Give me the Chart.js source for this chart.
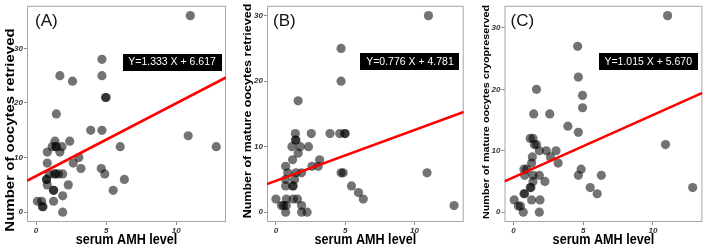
<!DOCTYPE html>
<html>
<head>
<meta charset="utf-8">
<script src="https://cdn.jsdelivr.net/npm/chart.js@4.4.1/dist/chart.umd.min.js"></script>
<style>
  body { margin: 0; background: #fff; width: 707px; height: 249px; overflow: hidden; position: relative; }
  canvas { position: absolute; top: 0; }
</style>
</head>
<body>
<canvas id="chartA" width="232" height="249" style="left:0px"></canvas>
<canvas id="chartB" width="234" height="249" style="left:236px"></canvas>
<canvas id="chartC" width="237" height="249" style="left:470px"></canvas>
<script>
// serum AMH (x) for each panel
const amhA = [11.0, 4.7, 4.7, 1.7, 2.6, 5.0, 4.95, 1.45, 3.9, 4.7, 10.85, 1.35, 2.4, 1.15, 1.4, 1.45, 1.85, 6.0, 12.85, 0.8,
  1.7, 3.05, 0.8, 2.65, 3.2, 4.65, 0.95, 1.3, 1.4, 1.6, 1.9, 4.9, 0.75, 0.75, 6.3, 0.8, 2.3, 1.25, 1.25, 5.5,
  1.9, 0.1, 0.4, 1.25, 0.45, 0.5, 1.9];
const oocytesA = [36, 28, 25, 25, 24, 21, 21, 18, 15, 15, 14, 13, 13, 12, 12, 12, 12, 12, 12, 11,
  11, 10, 9, 9, 8, 8, 7, 7, 7, 7, 7, 7, 6, 6, 6, 5, 5, 4, 4, 4,
  3, 2, 2, 2, 1, 1, 0];

const amhB = [11.0, 4.7, 4.7, 1.6, 1.4, 2.55, 3.9, 4.6, 4.95, 5.0, 1.4, 1.45, 1.15, 1.75, 2.35, 1.6, 1.2, 3.15, 0.7, 2.6,
  3.05, 0.85, 1.45, 1.85, 4.7, 4.85, 10.9, 0.7, 1.35, 0.7, 1.2, 1.25, 5.45, 5.95, 0.0, 0.75, 1.25, 1.55, 6.3, 0.4,
  0.55, 0.75, 1.85, 12.85, 0.7, 1.85, 2.25];
const matureB = [30, 25, 20, 17, 12, 12, 12, 12, 12, 12, 11, 11, 10, 10, 10, 9, 8, 8, 7, 7,
  7, 6, 6, 6, 6, 6, 6, 5, 5, 4, 4, 4, 4, 3, 2, 2, 2, 2, 2, 1,
  1, 1, 1, 1, 0, 0, 0];

const amhC = [11.05, 4.6, 4.65, 1.65, 4.95, 4.95, 1.45, 2.6, 3.9, 4.65, 1.2, 1.4, 1.5, 1.65, 10.9, 1.85, 2.35, 3.05, 1.35, 2.65,
  1.3, 3.2, 0.75, 0.95, 4.85, 0.8, 1.4, 1.85, 4.65, 6.3, 1.4, 2.25, 1.2, 1.25, 5.5, 12.85, 0.75, 0.8, 6.0, 0.05,
  1.3, 1.9, 0.35, 0.5, 0.7, 1.85];
const cryoC = [32, 27, 22, 20, 19, 17, 16, 16, 14, 13, 12, 12, 11, 11, 11, 10, 10, 10, 9, 9,
  8, 8, 7, 7, 7, 6, 6, 6, 6, 6, 5, 5, 4, 4, 4, 4, 3, 3, 3, 2,
  2, 2, 1, 1, 0, 0];

// fitted lines (slope, intercept) as printed in the boxes
const fitA = [1.333, 6.617];
const fitB = [0.776, 4.781];
const fitC = [1.015, 5.670];

const xTicks = [0, 5, 10];
const yTicksA = [0, 10, 20, 30];
const yTicksB = [0, 10, 20, 30];
const yTicksC = [0, 10, 20, 30];

const FONT = 'Arial, "Liberation Sans", sans-serif';
Chart.defaults.font.family = FONT;

// frame round the panel, tag, equation box and axis titles
const panelDecor = {
  id: 'panelDecor',
  beforeDatasetsDraw(chart) {
    const { ctx, chartArea: a } = chart;
    ctx.save();
    ctx.strokeStyle = '#a6a6a6';
    ctx.lineWidth = 1;
    ctx.strokeRect(a.left + 0.5, a.top + 0.5, a.width - 1, a.height - 1);
    ctx.restore();
  },
  afterDraw(chart, args, o) {
    const { ctx, chartArea: a, scales } = chart;
    ctx.save();
    ctx.fillStyle = '#111';
    ctx.font = '17px ' + FONT;
    ctx.textAlign = 'left';
    ctx.textBaseline = 'alphabetic';
    ctx.fillText(o.tag, a.left + o.tagDx, 25.5);

    const cx = scales.x.getPixelForValue(o.eqAt[0]);
    const cy = scales.y.getPixelForValue(o.eqAt[1]);
    ctx.fillStyle = '#000';
    ctx.fillRect(Math.round(cx - 49.5), Math.round(cy - 8.5), 99, 17);
    ctx.fillStyle = '#fff';
    ctx.font = '10.5px ' + FONT;
    ctx.textAlign = 'center';
    ctx.textBaseline = 'middle';
    ctx.fillText(o.eq, cx, cy + 0.5);

    // x title, a little narrower than the plain font
    ctx.fillStyle = '#000';
    ctx.save();
    ctx.translate((a.left + a.right) / 2, 240);
    ctx.scale(0.87, 1);
    ctx.font = 'bold 14.5px ' + FONT;
    ctx.fillText('serum AMH level', 0, 0);
    ctx.restore();

    // y title, glyphs squeezed across
    ctx.translate(o.yTitleX, o.yTitleY);
    ctx.scale(0.8, 1);
    ctx.rotate(-Math.PI / 2);
    ctx.font = 'bold ' + o.yTitleSize + 'px ' + FONT;
    ctx.fillText(o.yTitle, 0, 0);
    ctx.restore();
  }
};

function fmt(fit) {
  return 'Y=' + fit[0].toFixed(3) + ' X + ' + fit[1].toFixed(3);
}

function scatterPanel(id, xs, ys, fit, yTicks, cfg) {
  const xMin = -0.645, xMax = 13.545;
  return new Chart(document.getElementById(id), {
    type: 'scatter',
    data: {
      datasets: [
        {
          type: 'line',
          data: [{ x: xMin, y: fit[0] * xMin + fit[1] }, { x: xMax, y: fit[0] * xMax + fit[1] }],
          borderColor: '#ff0000',
          borderWidth: 2.6,
          pointRadius: 0,
          order: 0,
        },
        {
          data: xs.map((x, i) => ({ x: x, y: ys[i] })),
          backgroundColor: 'rgba(0,0,0,0.55)',
          borderWidth: 0,
          pointRadius: 4.6,
          order: 1,
        },
      ],
    },
    options: {
      responsive: false,
      animation: false,
      layout: { padding: { top: 3, right: cfg.padRight, left: 0, bottom: 0 } },
      plugins: {
        legend: { display: false },
        tooltip: { enabled: false },
        panelDecor: cfg.decor,
      },
      scales: {
        x: {
          type: 'linear',
          min: xMin,
          max: xMax,
          afterBuildTicks: (s) => { s.ticks = xTicks.map((v) => ({ value: v })); },
          afterFit: (s) => { s.height = 27; },
          grid: { drawOnChartArea: false, tickLength: 3, color: '#8c8c8c' },
          border: { display: false },
          ticks: { color: '#333', padding: 1, maxRotation: 0, font: { size: 8, style: 'italic', weight: 'bold' } },
        },
        y: {
          min: cfg.yMin,
          max: cfg.yMax,
          afterBuildTicks: (s) => { s.ticks = yTicks.map((v) => ({ value: v })); },
          afterFit: (s) => { s.width = cfg.left; },
          grid: { drawOnChartArea: false, tickLength: 3, color: '#8c8c8c' },
          border: { display: false },
          ticks: { color: '#333', padding: 1, font: { size: 8, style: 'italic', weight: 'bold' } },
        },
      },
    },
    plugins: [panelDecor],
  });
}

scatterPanel('chartA', amhA, oocytesA, fitA, yTicksA, {
  left: 27, padRight: 6, yMin: -1.8, yMax: 37.8,
  decor: { tag: '(A)', tagDx: 8, eq: fmt(fitA), eqAt: [9.7, 27.5],
    yTitle: 'Number of oocytes retrieved', yTitleX: 11, yTitleY: 130, yTitleSize: 15 },
});
scatterPanel('chartB', amhB, matureB, fitB, yTicksB, {
  left: 31, padRight: 6.3, yMin: -1.5, yMax: 31.5,
  decor: { tag: '(B)', tagDx: 6, eq: fmt(fitB), eqAt: [9.67, 23.0],
    yTitle: 'Number of mature oocytes retrieved', yTitleX: 12, yTitleY: 111, yTitleSize: 12.5 },
});
scatterPanel('chartC', amhC, cryoC, fitC, yTicksC, {
  left: 34.5, padRight: 3, yMin: -1.6, yMax: 33.6,
  decor: { tag: '(C)', tagDx: 6, eq: fmt(fitC), eqAt: [9.66, 24.55],
    yTitle: 'Number of mature oocytes cryopreserved', yTitleX: 17, yTitleY: 112, yTitleSize: 10.8 },
});
</script>
</body>
</html>
